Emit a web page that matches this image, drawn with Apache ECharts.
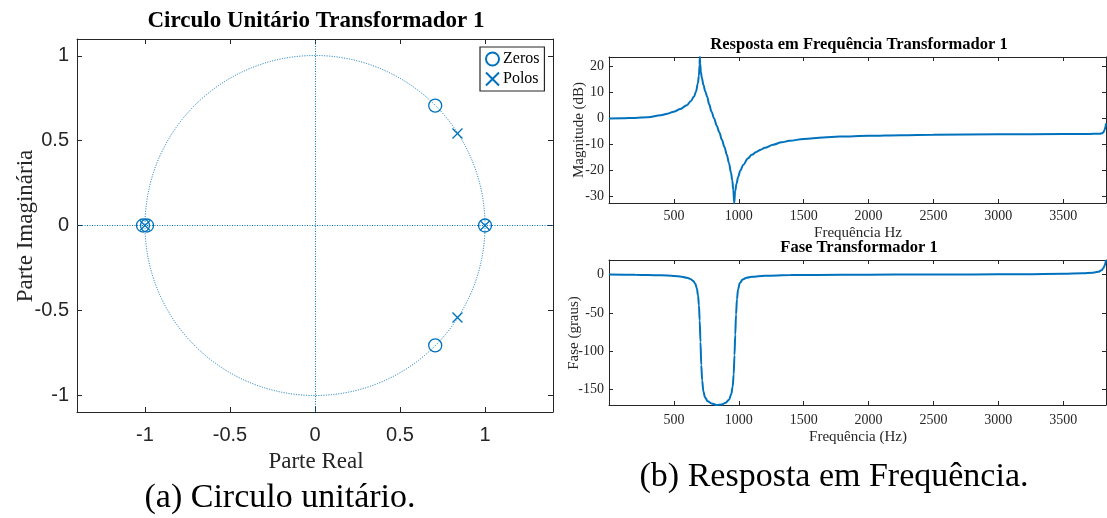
<!DOCTYPE html>
<html>
<head>
<meta charset="utf-8">
<script src="https://cdn.jsdelivr.net/npm/echarts@6/dist/echarts.min.js"></script>
<style>
  html, body { margin: 0; padding: 0; background: #ffffff; }
  #chart { width: 1107px; height: 518px; }
</style>
</head>
<body>
<div id="chart"></div>
<script>
// ---- Pole-zero map (z-plane) ----
const zerosRe = [1, -1.012, -0.988, 0.7071, 0.7071];
const zerosIm = [0, 0, 0, 0.7071, -0.7071];
const polesRe = [1, -1, 0.838, 0.838];
const polesIm = [0, 0, 0.543, -0.543];
const unitCircleRadius = 1;
const zplaneTicks = [-1, -0.5, 0, 0.5, 1];

// ---- Magnitude response (Hz, dB) ----
const freqMag = [0, 100, 200, 300, 400, 450, 500, 550, 600, 630, 655, 670, 685, 693, 698, 700,
  703, 708, 716, 728, 742, 756, 772, 790, 810, 830, 850, 870, 890, 908, 925, 940, 950, 958, 965,
  972, 983, 995, 1012, 1035, 1070, 1100, 1135, 1170, 1200, 1265, 1330, 1390, 1500, 1650, 1780,
  2000, 2250, 2500, 3000, 3500, 3700, 3780, 3800, 3812, 3820, 3826, 3830];
const magDb = [0, 0.05, 0.2, 0.45, 1.25, 1.8, 2.6, 3.6, 5.1, 6.6, 8.4, 10.2, 13.5, 16.5, 20.5, 23.6,
  21.0, 17.8, 15.5, 12.8, 10.3, 8.4, 5.4, 2.6, 0.0, -2.8, -5.3, -8.2, -11.0, -14.0, -17.3, -20.8,
  -23.8, -27.5, -32.5, -28.0, -25.0, -22.5, -20.0, -17.8, -15.4, -14.0, -12.9, -12.0, -11.3,
  -10.1, -9.2, -8.6, -7.9, -7.3, -6.95, -6.7, -6.45, -6.3, -6.1, -6.0, -5.95, -5.9, -5.7, -5.2,
  -4.3, -3.2, -1.9];
const magTicks = [-30, -20, -10, 0, 10, 20];

// ---- Phase response (Hz, degrees) ----
const freqPhase = [0, 200, 300, 400, 500, 560, 600, 630, 650, 665, 677, 686, 693, 699, 705, 711,
  718, 727, 740, 760, 790, 830, 870, 900, 925, 942, 953, 961, 967, 973, 979, 986, 995, 1008, 1030,
  1060, 1100, 1200, 1400, 1800, 2200, 2800, 3200, 3500, 3650, 3730, 3770, 3795, 3810, 3820, 3830];
const phaseDeg = [0, -0.3, -0.6, -1.0, -1.7, -2.8, -4.2, -6.0, -8.5, -12, -18, -27, -40, -60, -88,
  -118, -138, -152, -160, -165, -168, -170, -169.2, -167, -163, -156, -146, -130, -105, -78, -52,
  -32, -19, -11, -6.5, -4.2, -2.8, -1.4, -0.7, -0.3, 0, 0.2, 0.5, 1.0, 1.6, 2.5, 3.6, 5.5, 8.5,
  12, 19];
const phaseTicks = [-150, -100, -50, 0];
const freqTicks = [500, 1000, 1500, 2000, 2500, 3000, 3500];

const BLUE = '#0072BD';
const AXIS = '#262626';
const SERIF = '"Liberation Serif", "Times New Roman", serif';
const SANS = '"Liberation Sans", Arial, Helvetica, sans-serif';

// One side of a boxed axes frame; the mirrored sides only carry inward ticks.
function axisSide(gridIndex, position, min, max, ticks, withLabels, font, margin, tickLen) {
  return {
    type: 'value',
    gridIndex: gridIndex,
    position: position,
    min: min,
    max: max,
    axisLine: { show: true, onZero: false, lineStyle: { color: AXIS, width: 1 } },
    axisTick: { show: true, inside: true, length: tickLen, customValues: ticks,
      lineStyle: { color: AXIS, width: 1 } },
    axisLabel: withLabels ? {
      show: true, customValues: ticks, margin: margin, color: AXIS,
      fontFamily: font.family, fontSize: font.size,
      formatter: function (v) { return String(v); }
    } : { show: false },
    splitLine: { show: false }
  };
}

const leftFont = { family: SANS, size: 20 };
const rightFont = { family: SERIF, size: 14 };

const xAxes = [
  axisSide(0, 'bottom', -1.4, 1.4, zplaneTicks, true, leftFont, 13, 5),
  axisSide(0, 'top', -1.4, 1.4, zplaneTicks, false, leftFont, 0, 5),
  axisSide(1, 'bottom', 0, 3830, freqTicks, true, rightFont, 6, 4),
  axisSide(1, 'top', 0, 3830, freqTicks, false, rightFont, 0, 4),
  axisSide(2, 'bottom', 0, 3830, freqTicks, true, rightFont, 8, 4),
  axisSide(2, 'top', 0, 3830, freqTicks, false, rightFont, 0, 4)
];
const yAxes = [
  axisSide(0, 'left', -1.1, 1.1, zplaneTicks, true, leftFont, 8, 5),
  axisSide(0, 'right', -1.1, 1.1, zplaneTicks, false, leftFont, 0, 5),
  axisSide(1, 'left', -32.5, 23.6, magTicks, true, rightFont, 5, 4),
  axisSide(1, 'right', -32.5, 23.6, magTicks, false, rightFont, 0, 4),
  axisSide(2, 'left', -170, 19, phaseTicks, true, rightFont, 5, 4),
  axisSide(2, 'right', -170, 19, phaseTicks, false, rightFont, 0, 4)
];

const zip = (a, b) => a.map((v, i) => [v, b[i]]);

function label(x, y, str, font, fill, rotated) {
  return {
    type: 'text', x: x, y: y, silent: true,
    rotation: rotated ? Math.PI / 2 : 0,
    style: { text: str, font: font, fill: fill, align: 'center', verticalAlign: 'middle' }
  };
}

const option = {
  animation: false,
  backgroundColor: '#ffffff',
  grid: [
    { left: 77, top: 39, width: 476, height: 373 },
    { left: 609, top: 57, width: 497, height: 146 },
    { left: 609, top: 260, width: 497, height: 145 }
  ],
  xAxis: xAxes,
  yAxis: yAxes,
  legend: {
    data: ['Zeros', 'Polos'],
    orient: 'vertical',
    left: 480,
    top: 47,
    padding: [4, 5, 4, 5],
    itemGap: 4,
    itemWidth: 13,
    itemHeight: 13,
    borderColor: AXIS,
    borderWidth: 1.2,
    backgroundColor: '#ffffff',
    textStyle: { fontFamily: SERIF, fontSize: 16, color: '#000', padding: [0, 0, 0, -1] },
    selectedMode: false
  },
  series: [
    {
      // unit circle with the real and imaginary axes
      type: 'custom',
      xAxisIndex: 0,
      yAxisIndex: 0,
      silent: true,
      data: [[0, 0, unitCircleRadius]],
      encode: { x: 0, y: 1 },
      renderItem: function (params, api) {
        const c = api.coord([api.value(0), api.value(1)]);
        const r = api.size([api.value(2), 0])[0];
        return {
          type: 'circle',
          shape: { cx: c[0], cy: c[1], r: r },
          style: { fill: 'none', stroke: BLUE, lineWidth: 1, lineDash: [1, 1.5] }
        };
      },
      markLine: {
        silent: true,
        symbol: ['none', 'none'],
        label: { show: false },
        lineStyle: { color: BLUE, width: 1, type: [1, 1.5] },
        data: [{ xAxis: 0 }, { yAxis: 0 }]
      }
    },
    {
      name: 'Zeros',
      type: 'scatter',
      xAxisIndex: 0,
      yAxisIndex: 0,
      symbol: 'circle',
      symbolSize: 13,
      data: zip(zerosRe, zerosIm),
      itemStyle: { color: 'transparent', borderColor: BLUE, borderWidth: 1.3, opacity: 1 }
    },
    {
      name: 'Polos',
      type: 'scatter',
      xAxisIndex: 0,
      yAxisIndex: 0,
      symbol: 'path://M0,0L10,10M10,0L0,10',
      symbolSize: 10,
      data: zip(polesRe, polesIm),
      itemStyle: { color: 'transparent', borderColor: BLUE, borderWidth: 1.3, opacity: 1 }
    },
    {
      name: 'Magnitude',
      type: 'line',
      xAxisIndex: 2,
      yAxisIndex: 2,
      showSymbol: false,
      smooth: 0.35,
      smoothMonotone: 'x',
      data: zip(freqMag, magDb),
      lineStyle: { color: BLUE, width: 2 }
    },
    {
      name: 'Fase',
      type: 'line',
      xAxisIndex: 4,
      yAxisIndex: 4,
      showSymbol: false,
      smooth: 0.35,
      smoothMonotone: 'x',
      data: zip(freqPhase, phaseDeg),
      lineStyle: { color: BLUE, width: 2 }
    }
  ],
  graphic: [
    label(316, 21, 'Circulo Unitário Transformador 1', 'bold 23px ' + SERIF, '#000', false),
    label(316, 462, 'Parte Real', '23px ' + SERIF, AXIS, false),
    label(26, 226, 'Parte Imaginária', '23px ' + SERIF, AXIS, true),
    label(859, 45, 'Resposta em Frequência Transformador 1', 'bold 16.5px ' + SERIF, '#000', false),
    label(579, 130, 'Magnitude (dB)', '15px ' + SERIF, AXIS, true),
    label(858, 233, 'Frequência Hz', '15px ' + SERIF, AXIS, false),
    label(859, 248, 'Fase Transformador 1', 'bold 16.5px ' + SERIF, '#000', false),
    label(574, 333, 'Fase (graus)', '15px ' + SERIF, AXIS, true),
    label(858, 437, 'Frequência (Hz)', '15px ' + SERIF, AXIS, false),
    label(280, 498, '(a) Circulo unitário.', '34px ' + SERIF, '#000', false),
    label(834, 477, '(b) Resposta em Frequência.', '34px ' + SERIF, '#000', false)
  ]
};

const chart = echarts.init(document.getElementById('chart'), null, { renderer: 'canvas' });
chart.setOption(option);
</script>
</body>
</html>
